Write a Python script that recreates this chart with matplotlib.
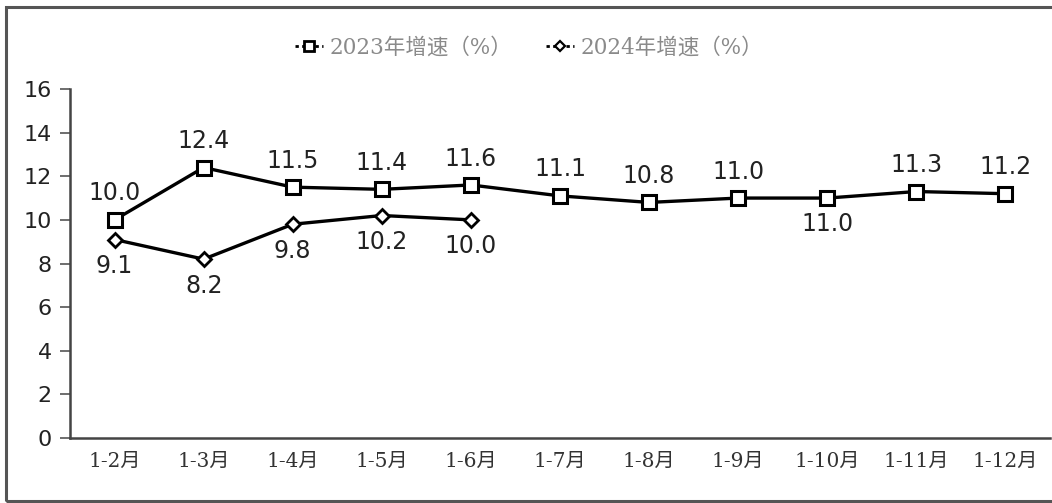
import matplotlib
matplotlib.use("Agg")
import matplotlib.pyplot as plt
from matplotlib.patches import Rectangle
from matplotlib.lines import Line2D

# 累计月份
months = ["1-2月", "1-3月", "1-4月", "1-5月", "1-6月", "1-7月",
          "1-8月", "1-9月", "1-10月", "1-11月", "1-12月"]
growth_2023 = [10.0, 12.4, 11.5, 11.4, 11.6, 11.1, 10.8, 11.0, 11.0, 11.3, 11.2]
growth_2024 = [9.1, 8.2, 9.8, 10.2, 10.0]
y_ticks = [0, 2, 4, 6, 8, 10, 12, 14, 16]

# label placement: +1 above the point, -1 below
side_2023 = [1, 1, 1, 1, 1, 1, 1, 1, -1, 1, 1]
side_2024 = [-1, -1, -1, -1, -1]

cjk_serif = ["DejaVu Serif", "Noto Sans CJK SC"]

fig = plt.figure(figsize=(10.52, 5.03), dpi=100, facecolor="white")
ax = fig.add_axes([70 / 1052, 1 - 438 / 503, 980 / 1052, (438 - 89) / 503])

x23 = list(range(len(growth_2023)))
x24 = list(range(len(growth_2024)))

ax.plot(x23, growth_2023, color="black", lw=2.4, marker="s", ms=10,
        mfc="white", mec="black", mew=2.2, zorder=3)
ax.plot(x24, growth_2024, color="black", lw=2.4, marker="D", ms=7.5,
        mfc="white", mec="black", mew=2.0, zorder=3)

for xs, vals, sides in [(x23, growth_2023, side_2023), (x24, growth_2024, side_2024)]:
    for x, v, s in zip(xs, vals, sides):
        ax.annotate(f"{v:.1f}", (x, v), xytext=(0, 19 * s), textcoords="offset points",
                    ha="center", va="center", fontsize=17, color="#222222",
                    family="DejaVu Sans")

ax.set_xlim(-0.5, len(months) - 0.5)
ax.set_ylim(0, 16)
ax.set_yticks(y_ticks)
ax.set_yticklabels([str(t) for t in y_ticks], fontsize=16, color="#222222",
                   family="DejaVu Sans")
ax.set_xticks(x23)
ax.set_xticklabels(months, fontsize=14.5, color="#333333", family=cjk_serif)
ax.tick_params(axis="x", length=0, pad=10)
ax.tick_params(axis="y", length=7, width=1.2, color="#555555", pad=6)

for s in ["top", "right"]:
    ax.spines[s].set_visible(False)
for s in ["left", "bottom"]:
    ax.spines[s].set_color("#444444")
    ax.spines[s].set_linewidth(1.8)

# legend
handles = [
    Line2D([], [], color="black", lw=2, ls=(0, (1.2, 1.2)), marker="s", ms=7,
           mfc="white", mec="black", mew=2),
    Line2D([], [], color="black", lw=2, ls=(0, (1.2, 1.2)), marker="D", ms=5.5,
           mfc="white", mec="black", mew=1.6),
]
leg = fig.legend(handles, ["2023年增速（%）", "2024年增速（%）"], loc="center",
                 bbox_to_anchor=(0.503, 0.905), ncol=2, frameon=False,
                 handlelength=1.3, handletextpad=0.3, columnspacing=1.6,
                 prop={"family": cjk_serif, "size": 15.5})
for t in leg.get_texts():
    t.set_color("#8a8a8a")

# outer frame
fig.patches.append(Rectangle((6 / 1052, 2.5 / 503), 1.1, 494 / 503,
                             transform=fig.transFigure, fill=False,
                             edgecolor="#555555", lw=2.2))

fig.savefig("out.png", dpi=100, facecolor="white")
